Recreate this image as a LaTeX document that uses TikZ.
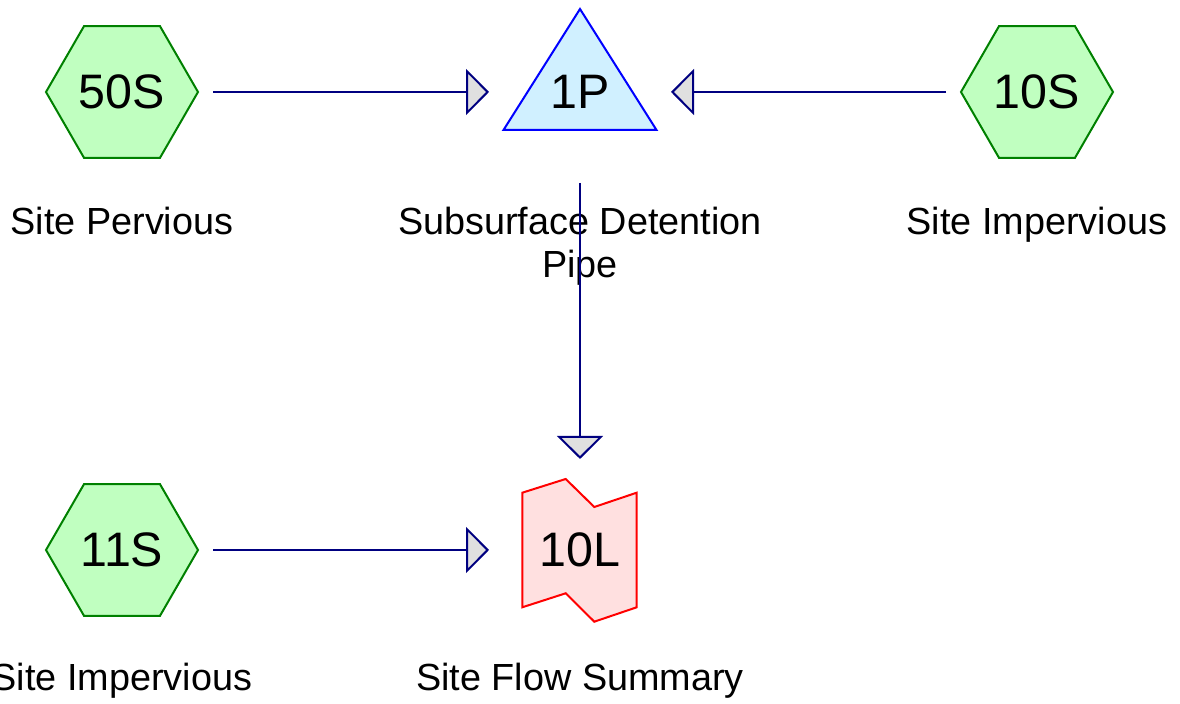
\documentclass[tikz,border=0pt]{standalone}
\usepackage{fontspec}
\setmainfont{Liberation Sans}
\usetikzlibrary{arrows.meta}

\definecolor{flowline}{HTML}{000080}
\definecolor{tipfill}{HTML}{E0E0E0}
\definecolor{hexline}{HTML}{008000}
\definecolor{hexfill}{HTML}{C0FFC0}
\definecolor{pondline}{HTML}{0000FF}
\definecolor{pondfill}{HTML}{D0F0FF}
\definecolor{linkline}{HTML}{FF0000}
\definecolor{linkfill}{HTML}{FFE0E0}

\begin{document}
\begin{tikzpicture}[x=0.5pt,y=-0.5pt,
  % every element sits in an invisible square that the connectors end on
  unitbox/.style={shape=rectangle, minimum size=91pt, inner sep=0pt, outer sep=0pt,
    font=\fontsize{24.2}{29}\selectfont},
  subcatch/.style={unitbox, path picture={
    \draw[draw=hexline, fill=hexfill, line width=1pt, line join=miter]
      (path picture bounding box.center)
      +(0:38pt) -- +(60:38pt) -- +(120:38pt) -- +(180:38pt) -- +(240:38pt) -- +(300:38pt) -- cycle;}},
  pond/.style={unitbox, path picture={
    \draw[draw=pondline, fill=pondfill, line width=1pt, line join=miter]
      (path picture bounding box.center)
      +(0,41.5pt) -- +(38.25pt,-19pt) -- +(-38.25pt,-19pt) -- cycle;}},
  link/.style={unitbox, path picture={
    \draw[draw=linkline, fill=linkfill, line width=1pt, line join=miter]
      (path picture bounding box.center)
      +(-28.85pt,28.65pt) -- +(-7.15pt,35.5pt) -- +(7.15pt,21.5pt) -- +(28.35pt,28.65pt)
      -- +(28.35pt,-28.65pt) -- +(7.15pt,-35.85pt) -- +(-7.15pt,-21.65pt) -- +(-28.85pt,-28.65pt) -- cycle;}},
  nodecaption/.style={anchor=base, align=center, inner sep=0pt,
    font=\fontsize{18.9}{21.5}\selectfont},
  flow/.style={draw=flowline, line width=1pt,
    -{Triangle[length=11.5pt,width=23pt,fill=tipfill,line join=miter]}}]

\useasboundingbox (0,0) rectangle (1180,704);

% elements
\node[subcatch] (50S) at (122,92) {50S};
\node[pond]     (1P)  at (580,92) {1P};
\node[subcatch] (10S) at (1037,92) {10S};
\node[subcatch] (11S) at (122,550) {11S};
\node[link]     (10L) at (580,550) {10L};

% captions (a two-line caption sits on the baseline of its last line)
\node[nodecaption] (50Scap) at (122,235) {Site Pervious};
\node[nodecaption] (1Pcap)  at (580,278) {Subsurface Detention\\Pipe};
\node[nodecaption] (10Scap) at (1037,235) {Site Impervious};
\node[nodecaption] (11Scap) at (122,691) {Site Impervious};
\node[nodecaption] (10Lcap) at (580,691) {Site Flow Summary};

% routing
\draw[flow] (50S) -- (1P);
\draw[flow] (10S) -- (1P);
\draw[flow] (1P) -- (10L);
\draw[flow] (11S) -- (10L);

\end{tikzpicture}
\end{document}
